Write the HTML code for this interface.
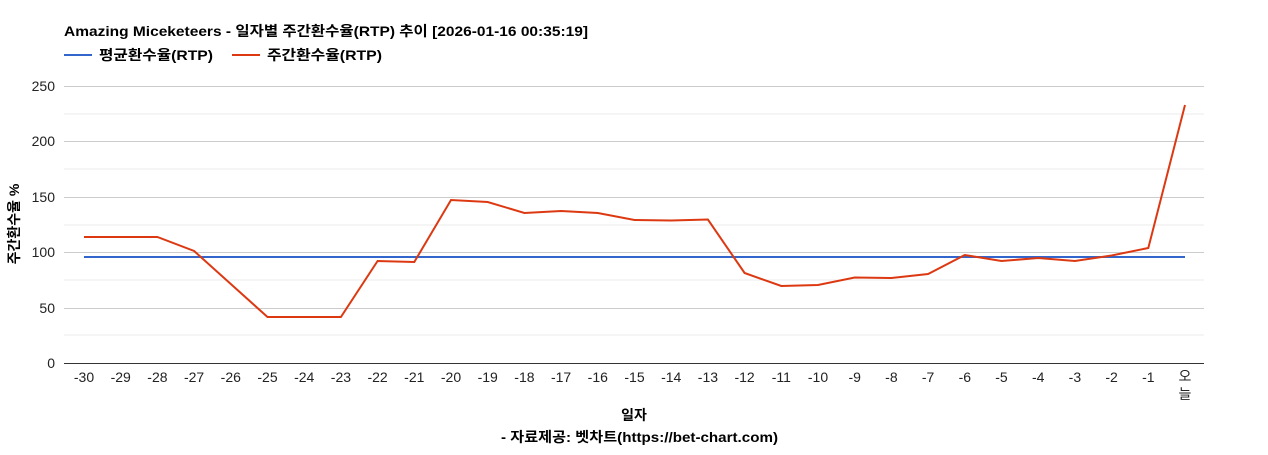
<!DOCTYPE html>
<html><head><meta charset="utf-8"><style>
body{margin:0;background:#fff;}
svg text{font-family:"Liberation Sans","Noto Sans CJK KR",sans-serif;}
</style></head><body>
<svg width="1268" height="450" xmlns="http://www.w3.org/2000/svg">
<rect width="1268" height="450" fill="#fff"/>
<text x="64" y="36" font-size="14" font-weight="bold" fill="#000" textLength="524" lengthAdjust="spacingAndGlyphs">Amazing Miceketeers - 일자별 주간환수율(RTP) 추이 [2026-01-16 00:35:19]</text>
<line x1="64" y1="55" x2="92" y2="55" stroke="#3366cc" stroke-width="2"/>
<text x="99" y="60" font-size="14" font-weight="bold" textLength="114" lengthAdjust="spacingAndGlyphs">평균환수율(RTP)</text>
<line x1="232" y1="55" x2="260" y2="55" stroke="#dc3912" stroke-width="2"/>
<text x="267" y="60" font-size="14" font-weight="bold" textLength="115" lengthAdjust="spacingAndGlyphs">주간환수율(RTP)</text>
<g stroke="#ebebeb" stroke-width="1">
<line x1="64" y1="114" x2="1204" y2="114"/><line x1="64" y1="169" x2="1204" y2="169"/>
<line x1="64" y1="225" x2="1204" y2="225"/><line x1="64" y1="280" x2="1204" y2="280"/>
<line x1="64" y1="335" x2="1204" y2="335"/>
</g>
<g stroke="#ccc" stroke-width="1">
<line x1="64" y1="86.5" x2="1204" y2="86.5"/><line x1="64" y1="141.5" x2="1204" y2="141.5"/>
<line x1="64" y1="197.5" x2="1204" y2="197.5"/><line x1="64" y1="252.5" x2="1204" y2="252.5"/>
<line x1="64" y1="308.5" x2="1204" y2="308.5"/>
</g>
<line x1="64" y1="363.5" x2="1204" y2="363.5" stroke="#333"/>
<g font-size="14" text-anchor="end" fill="#222">
<text x="55" y="91">250</text><text x="55" y="146">200</text><text x="55" y="202">150</text>
<text x="55" y="257">100</text><text x="55" y="313">50</text><text x="55" y="368">0</text>
</g>
<g font-size="14" text-anchor="middle" fill="#222">
<text x="84" y="382">-30</text><text x="120.7" y="382">-29</text><text x="157.4" y="382">-28</text><text x="194.1" y="382">-27</text><text x="230.8" y="382">-26</text><text x="267.5" y="382">-25</text><text x="304.2" y="382">-24</text><text x="340.9" y="382">-23</text><text x="377.6" y="382">-22</text><text x="414.3" y="382">-21</text><text x="451" y="382">-20</text><text x="487.7" y="382">-19</text><text x="524.4" y="382">-18</text><text x="561.1" y="382">-17</text><text x="597.8" y="382">-16</text><text x="634.5" y="382">-15</text><text x="671.2" y="382">-14</text><text x="707.9" y="382">-13</text><text x="744.6" y="382">-12</text><text x="781.3" y="382">-11</text><text x="818" y="382">-10</text><text x="854.7" y="382">-9</text><text x="891.4" y="382">-8</text><text x="928.1" y="382">-7</text><text x="964.8" y="382">-6</text><text x="1001.5" y="382">-5</text><text x="1038.2" y="382">-4</text><text x="1074.9" y="382">-3</text><text x="1111.6" y="382">-2</text><text x="1148.3" y="382">-1</text><text x="1185" y="381">오</text><text x="1185" y="399">늘</text>
</g>
<text x="634" y="420" font-size="14" font-weight="bold" text-anchor="middle">일자</text>
<text x="501" y="442" font-size="14" font-weight="bold" textLength="277" lengthAdjust="spacingAndGlyphs">- 자료제공: 벳차트(https://bet-chart.com)</text>
<text transform="translate(19,224) rotate(-90)" font-size="14" font-weight="bold" text-anchor="middle">주간환수율 %</text>
<line x1="84" y1="257" x2="1185" y2="257" stroke="#3366cc" stroke-width="2"/>
<polyline fill="none" stroke="#dc3912" stroke-width="2" points="84,237 120.7,237 157.4,237 194.1,251 230.8,284 267.5,317 304.2,317 340.9,317 377.6,261 414.3,262 451,200 487.7,202 524.4,213 561.1,211 597.8,213 634.5,220 671.2,220.5 707.9,219.5 744.6,273 781.3,286 818,285 854.7,277.5 891.4,278 928.1,274 964.8,255 1001.5,261 1038.2,258 1074.9,261 1111.6,255.5 1148.3,248 1185,105"/>
</svg>
</body></html>
